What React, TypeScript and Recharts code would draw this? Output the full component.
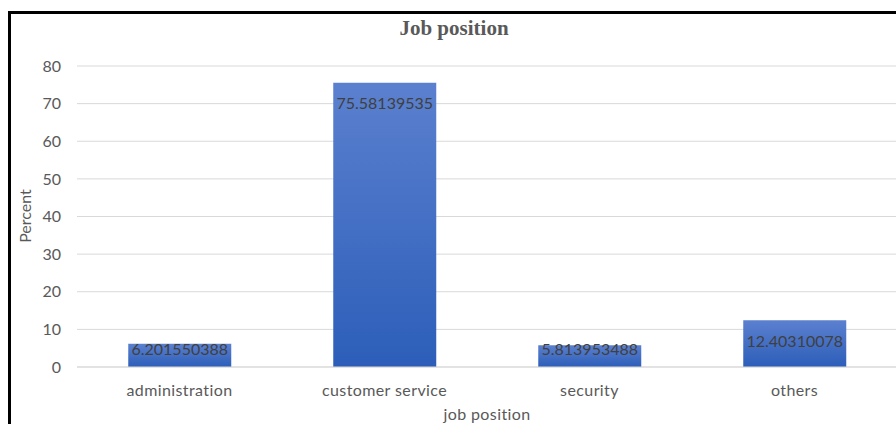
import React from "react";
import { BarChart, Bar, XAxis, YAxis, CartesianGrid, LabelList, Label } from "recharts";

const categories = ["administration", "customer service", "security", "others"];
const percents = [6.201550388, 75.58139535, 5.813953488, 12.40310078];
const yTicks = [0, 10, 20, 30, 40, 50, 60, 70, 80];

const data = categories.map((position, i) => ({ position, percent: percents[i] }));

const FONT = "Lato, 'Open Sans', sans-serif";

// Excel-ish "inside end" label: sits near the top, but stays inside short bars
const BarValue = (props: any) => {
  const { x, y, width, height, value } = props;
  const dy = Math.min(21, height - 18);
  return (
    <text
      x={x + width / 2}
      y={y + dy}
      dy="0.35em"
      textAnchor="middle"
      fill="#404040"
      fontSize={16}
      fontFamily={FONT}
    >
      {value}
    </text>
  );
};

export default function App() {
  return (
    <div
      style={{
        position: "absolute",
        left: 0,
        top: 0,
        width: 896,
        height: 424,
        overflow: "hidden",
        background: "#fff",
        fontFamily: FONT,
      }}
    >
      {/* frame */}
      <div
        style={{
          position: "absolute",
          left: 8,
          top: 11,
          width: 900,
          height: 430,
          borderLeft: "3px solid #000",
          borderTop: "3px solid #000",
          boxSizing: "border-box",
        }}
      />
      <div
        style={{
          position: "absolute",
          left: 0,
          width: 908,
          top: 16,
          textAlign: "center",
          fontFamily: "'Liberation Serif', 'Times New Roman', serif",
          fontWeight: "bold",
          fontSize: 21,
          color: "#595959",
        }}
      >
        Job position
      </div>
      <div style={{ position: "absolute", left: 0, top: 0 }}>
        <BarChart
          width={900}
          height={440}
          data={data}
          margin={{ top: 66, right: 3, bottom: 43, left: 0 }}
          barCategoryGap="25%"
        >
          <defs>
            <linearGradient id="barFill" x1="0" y1="0" x2="0" y2="1">
              <stop offset="0%" stopColor="#5b80cf" />
              <stop offset="100%" stopColor="#2c5eb9" />
            </linearGradient>
          </defs>
          <CartesianGrid vertical={false} stroke="#d9d9d9" />
          <XAxis
            dataKey="position"
            height={30}
            tickLine={false}
            tickSize={0}
            tickMargin={18}
            axisLine={{ stroke: "#d9d9d9" }}
            tick={{ fill: "#595959", fontSize: 16, fontFamily: FONT, letterSpacing: 0.4 }}
          >
            <Label
              value="job position"
              position="insideBottom"
              offset={-23}
              fill="#595959"
              fontSize={16}
              fontFamily={FONT}
              letterSpacing={0.4}
            />
          </XAxis>
          <YAxis
            width={77}
            domain={[0, 80]}
            ticks={yTicks}
            axisLine={false}
            tickLine={false}
            tickSize={0}
            tickMargin={16}
            tick={{ fill: "#595959", fontSize: 16, fontFamily: FONT }}
          >
            <Label
              content={() => (
                <text
                  x={0}
                  y={0}
                  transform="translate(31, 216) rotate(-90)"
                  textAnchor="middle"
                  fill="#595959"
                  fontSize={16}
                  fontFamily={FONT}
                >
                  Percent
                </text>
              )}
            />
          </YAxis>
          <Bar dataKey="percent" fill="url(#barFill)" isAnimationActive={false}>
            <LabelList dataKey="percent" content={BarValue} />
          </Bar>
        </BarChart>
      </div>
    </div>
  );
}
